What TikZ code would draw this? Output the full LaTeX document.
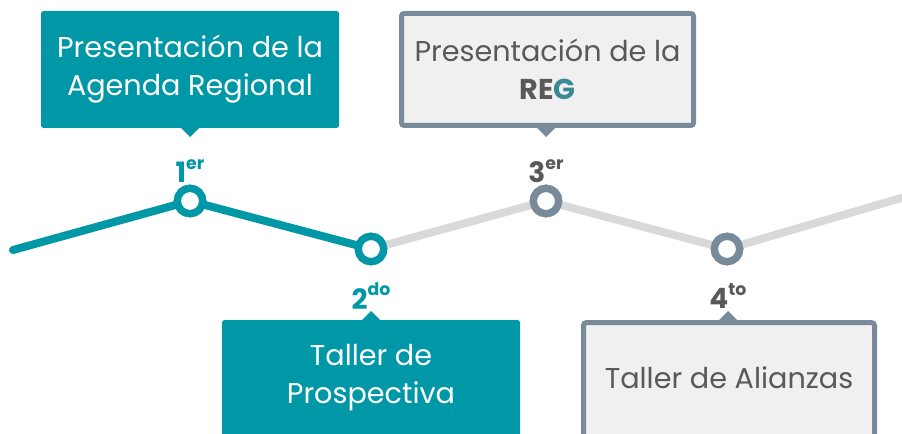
\documentclass[tikz,border=0pt]{standalone}
\usepackage{fontspec}
\setmainfont{Poppins}
\definecolor{teal1}{HTML}{0097A7}
\definecolor{slate}{HTML}{798B9A}
\definecolor{lgray}{HTML}{D9D9D9}
\definecolor{boxfill}{HTML}{F0F0F0}
\definecolor{txtgray}{HTML}{595959}
\definecolor{regG}{HTML}{3A8A95}
\begin{document}
\begin{tikzpicture}[x=0.75pt,y=-0.75pt,
  tealbox/.style={fill=teal1, rounded corners=2pt, inner sep=0pt},
  graybox/.style={fill=boxfill, draw=slate, line width=3.75pt, rounded corners=2pt, inner sep=0pt},
  dot/.style={circle, fill=white, line width=5.5pt, minimum size=19pt, inner sep=0pt},
  boxtxt/.style={font=\fontsize{21.5}{28.5}\selectfont, align=center},
  ord/.style={font=\fontsize{21}{21}\selectfont\bfseries, inner sep=0pt}
]
\useasboundingbox (0,0) rectangle (902,434);
\clip (0,0) rectangle (902,434);
% points
\coordinate (start) at (13,250);
\coordinate (fin) at (925,191);
\node[dot, draw=teal1] (n1) at (190,201) {};
\node[dot, draw=teal1] (n2) at (371,249) {};
\node[dot, draw=slate] (n3) at (546,201) {};
\node[dot, draw=slate] (n4) at (727,249) {};
% lines
\draw[lgray, line width=6pt] (n2.center) -- (n3.center) -- (n4.center) -- (fin);
\draw[teal1, line width=6pt, line cap=round, line join=round] (start) -- (n1.center) -- (n2.center);
\node[dot, draw=teal1] at (n1) {};
\node[dot, draw=teal1] at (n2) {};
\node[dot, draw=slate] at (n3) {};
\node[dot, draw=slate] at (n4) {};
% boxes
\node[tealbox, minimum width=223.5pt, minimum height=87.75pt] (b1) at (190,69.5) {};
\fill[teal1] (180,127) -- (200,127) -- (190,137) -- cycle;
\node[boxtxt, text=white] (t1) at (190,69) {Presentación de la\\Agenda Regional};

\node[graybox, minimum width=219pt, minimum height=84pt] (b3) at (547.5,69.5) {};
\fill[slate] (536,127) -- (556,127) -- (546,137) -- cycle;
\node[boxtxt, text=txtgray] (t3) at (547.5,69) {Presentación de la\\{\bfseries RE\textcolor{regG}{G}}};

\node[tealbox, minimum width=223.5pt, minimum height=97.5pt] (b2) at (371,385) {};
\fill[teal1] (361,321) -- (381,321) -- (371,311) -- cycle;
\node[boxtxt, text=white] (t2) at (371,378) {Taller de\\Prospectiva};

\node[graybox, minimum width=218.25pt, minimum height=91.9pt] (b4) at (729,384) {};
\fill[slate] (718,321) -- (738,321) -- (728,311) -- cycle;
\node[boxtxt, text=txtgray] (t4) at (729,378) {Taller de Alianzas};

% ordinals
\node[ord, text=teal1] (o1) at (190,171) {1\raisebox{0.48em}{\fontsize{13}{13}\selectfont\bfseries er}};
\node[ord, text=teal1] (o2) at (371,296) {2\raisebox{0.48em}{\fontsize{13}{13}\selectfont\bfseries do}};
\node[ord, text=txtgray] (o3) at (546,171) {3\raisebox{0.48em}{\fontsize{13}{13}\selectfont\bfseries er}};
\node[ord, text=txtgray] (o4) at (728,296) {4\raisebox{0.48em}{\fontsize{13}{13}\selectfont\bfseries to}};
\end{tikzpicture}
\end{document}
